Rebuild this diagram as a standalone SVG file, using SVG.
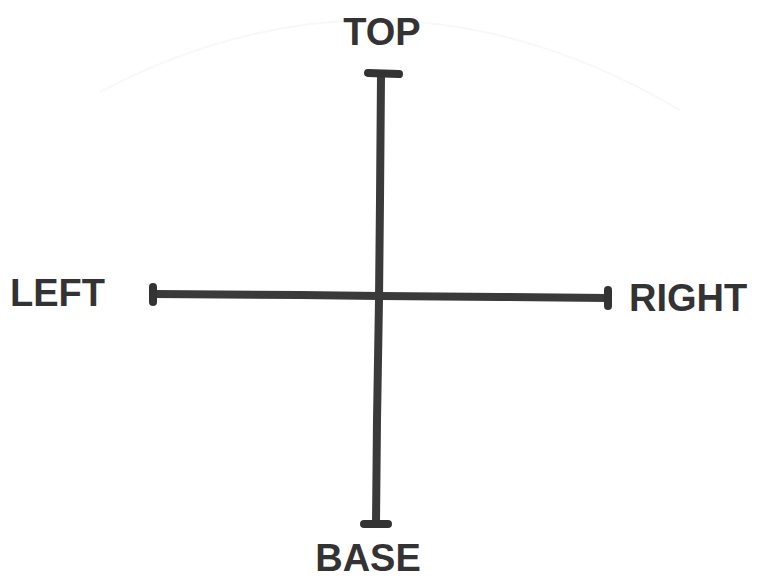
<svg xmlns="http://www.w3.org/2000/svg" width="758" height="580" viewBox="0 0 758 580">
<style>
.ax{stroke:#3a3a3a;stroke-width:8;stroke-linecap:round;fill:none}
.cap{stroke:#333;stroke-width:8;stroke-linecap:round;fill:none}
.lbl{font-family:"Liberation Sans",Arial,sans-serif;font-weight:bold;font-size:38px;fill:#333}
</style>
<rect width="758" height="580" fill="#fff"/>
<path d="M100 92 Q390 -60 680 110" stroke="#f8f8f8" stroke-width="2" fill="none"/>
<g id="connectors">
<path class="ax" d="M381 75 L380 200 L379 300 L377 420 L376 523"/>
<path class="ax" d="M154 294 L300 295 L380 296 L500 297 L607 298"/>
</g>
<g id="top"><path class="cap" d="M368 73 L399 74"/><text class="lbl" x="382" y="45" text-anchor="middle">TOP</text></g>
<g id="base"><path class="cap" d="M364 524 L388 524"/><text class="lbl" x="368" y="571" text-anchor="middle" font-size="36">BASE</text></g>
<g id="left"><path class="cap" d="M153 287 L153 302"/><text class="lbl" x="10" y="306">LEFT</text></g>
<g id="right"><path class="cap" d="M608 290 L608 306"/><text class="lbl" x="629" y="311">RIGHT</text></g>
</svg>
